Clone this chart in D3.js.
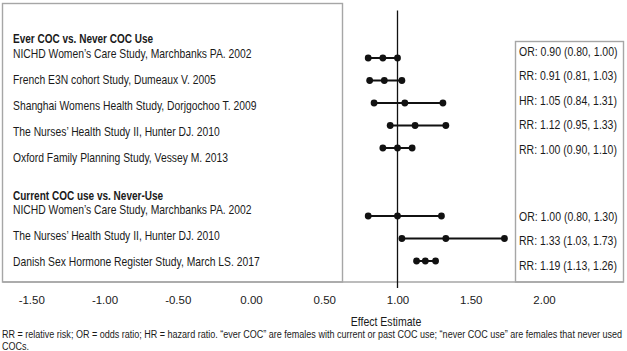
<!DOCTYPE html>
<html>
<head>
<meta charset="utf-8">
<script src="https://cdn.jsdelivr.net/npm/d3@7"></script>
<style>
  body { margin: 0; background: #fff; }
  svg { display: block; }
  .lbl { font-family: "Liberation Sans", Arial, sans-serif; font-size: 13px; fill: #1a1a1a; }
  .tick text { font-family: "Liberation Sans", Arial, sans-serif; font-size: 11.5px; fill: #1a1a1a; }
</style>
</head>
<body>
<div id="chart"></div>
<script>
var sections = ["Ever COC vs. Never COC Use", "Current COC use vs. Never-Use"];
var studies = [
    "NICHD Women\u2019s Care Study, Marchbanks PA. 2002",
    "French E3N cohort Study, Dumeaux V. 2005",
    "Shanghai Womens Health Study, Dorjgochoo T. 2009",
    "The Nurses\u2019 Health Study II, Hunter DJ. 2010",
    "Oxford Family Planning Study, Vessey M. 2013",
    "NICHD Women\u2019s Care Study, Marchbanks PA. 2002",
    "The Nurses\u2019 Health Study II, Hunter DJ. 2010",
    "Danish Sex Hormone Register Study, March LS. 2017"
];
var groupOf  = [0, 0, 0, 0, 0, 1, 1, 1];
var measures = ["OR", "RR", "HR", "RR", "RR", "OR", "RR", "RR"];
var estimates = [0.90, 0.91, 1.05, 1.12, 1.00, 1.00, 1.33, 1.19];
var lowers    = [0.80, 0.81, 0.84, 0.95, 0.90, 0.80, 1.03, 1.13];
var uppers    = [1.00, 1.03, 1.31, 1.33, 1.10, 1.30, 1.73, 1.26];
var tickValues = [-1.5, -1, -0.5, 0, 0.5, 1, 1.5, 2];
var axisTitle = "Effect Estimate";
var footnote = ["RR = relative risk; OR = odds ratio; HR = hazard ratio. \u201cever COC\u201d are females with current or past COC use; \u201cnever COC use\u201d are females that never used",
                "COCs."];

var width = 627, height = 351;

var rows = studies.map(function(s, i) {
    return {name: s, group: groupOf[i], measure: measures[i], est: estimates[i], lo: lowers[i], hi: uppers[i]};
});
// index of each row inside its section
rows.forEach(function(d, i) {
    d.k = rows.slice(0, i).filter(function(r) { return r.group === d.group; }).length;
});

// no narrow font installed, so squeeze the regular one horizontally
function place(sel, fx, fy, f) {
    sel.attr("transform", function(d, i) {
        return "translate(" + fx(d, i) + "," + fy(d, i) + ") scale(" + f + ",1)";
    });
}

var svg = d3.select("#chart").append("svg")
    .attr("width", width)
    .attr("height", height);

var x = d3.scaleLinear().domain([1, 2]).range([397.5, 544]);

// vertical positions: each column has its own row pitch in the original
var yLabel = function(d) { return [57.5, 213.5][d.group] + d.k * 26; };
var yDot   = function(d) { return [58, 216][d.group] + d.k * 22.5; };
var yRight = function(d) { return [55.5, 220.5][d.group] + d.k * 24.6; };

// frames
svg.append("rect")
    .attr("x", 2.5).attr("y", 3.5).attr("width", 340).attr("height", 278.5)
    .style("fill", "none").style("stroke", "#a6a6a6").style("stroke-width", 1.4);
svg.append("rect")
    .attr("x", 515.5).attr("y", 41.5).attr("width", 108).attr("height", 240.5)
    .style("fill", "none").style("stroke", "#a6a6a6").style("stroke-width", 1.4);
svg.append("line")
    .attr("x1", 2.5).attr("x2", 623.5).attr("y1", 282).attr("y2", 282)
    .style("stroke", "#a6a6a6").style("stroke-width", 1.4);

// axis
var fmt = d3.format(".2f");
svg.append("g")
    .attr("transform", "translate(0,282)")
    .call(d3.axisBottom(x)
        .tickValues(tickValues)
        .tickSize(0)
        .tickPadding(14)
        .tickFormat(function(d) { return fmt(d).replace("\u2212", "-"); }))
    .call(function(g) { g.select(".domain").remove(); });

svg.append("text")
    .attr("class", "lbl")
    .attr("text-anchor", "middle")
    .text(axisTitle)
    .call(place, function() { return 386; }, function() { return 326; }, 0.81);

// reference line at 1
svg.append("line")
    .attr("x1", x(1)).attr("x2", x(1))
    .attr("y1", 10.5).attr("y2", 288)
    .style("stroke", "#111").style("stroke-width", 1.3);

// section headers
svg.selectAll(".hdr")
    .data(sections)
    .enter().append("text")
    .attr("class", "lbl hdr")
    .style("font-weight", "bold")
    .text(function(d) { return d; })
    .call(place, function() { return 13; }, function(d, i) { return [43, 199.5][i]; }, 0.77);

// study labels
svg.selectAll(".study")
    .data(rows)
    .enter().append("text")
    .attr("class", "lbl study")
    .text(function(d) { return d.name; })
    .call(place, function() { return 13; }, yLabel, 0.795);

// intervals
var ci = svg.selectAll(".ci")
    .data(rows)
    .enter().append("g")
    .attr("class", "ci");

ci.append("line")
    .attr("x1", function(d) { return x(d.lo); })
    .attr("x2", function(d) { return x(d.hi); })
    .attr("y1", yDot).attr("y2", yDot)
    .style("stroke", "#111").style("stroke-width", 2);

ci.selectAll("circle")
    .data(function(d) { return [d.lo, d.est, d.hi].map(function(v) { return {v: v, row: d}; }); })
    .enter().append("circle")
    .attr("cx", function(p) { return x(p.v); })
    .attr("cy", function(p) { return yDot(p.row); })
    .attr("r", 3.4)
    .style("fill", "#111");

// estimate text
svg.selectAll(".est")
    .data(rows)
    .enter().append("text")
    .attr("class", "lbl est")
    .style("font-size", "12.5px")
    .text(function(d) { return d.measure + ": " + fmt(d.est) + " (" + fmt(d.lo) + ", " + fmt(d.hi) + ")"; })
    .call(place, function() { return 519; }, yRight, 0.84);

// footnote: first line stretched to the full width like the original
var foot = svg.selectAll(".foot")
    .data(footnote)
    .enter().append("text")
    .attr("class", "lbl foot")
    .style("font-size", "11px")
    .text(function(d) { return d; });
var footScale = 621 / foot.node().getComputedTextLength();
foot.call(place, function() { return 2; }, function(d, i) { return 338 + i * 11.5; }, footScale);
</script>
</body>
</html>
